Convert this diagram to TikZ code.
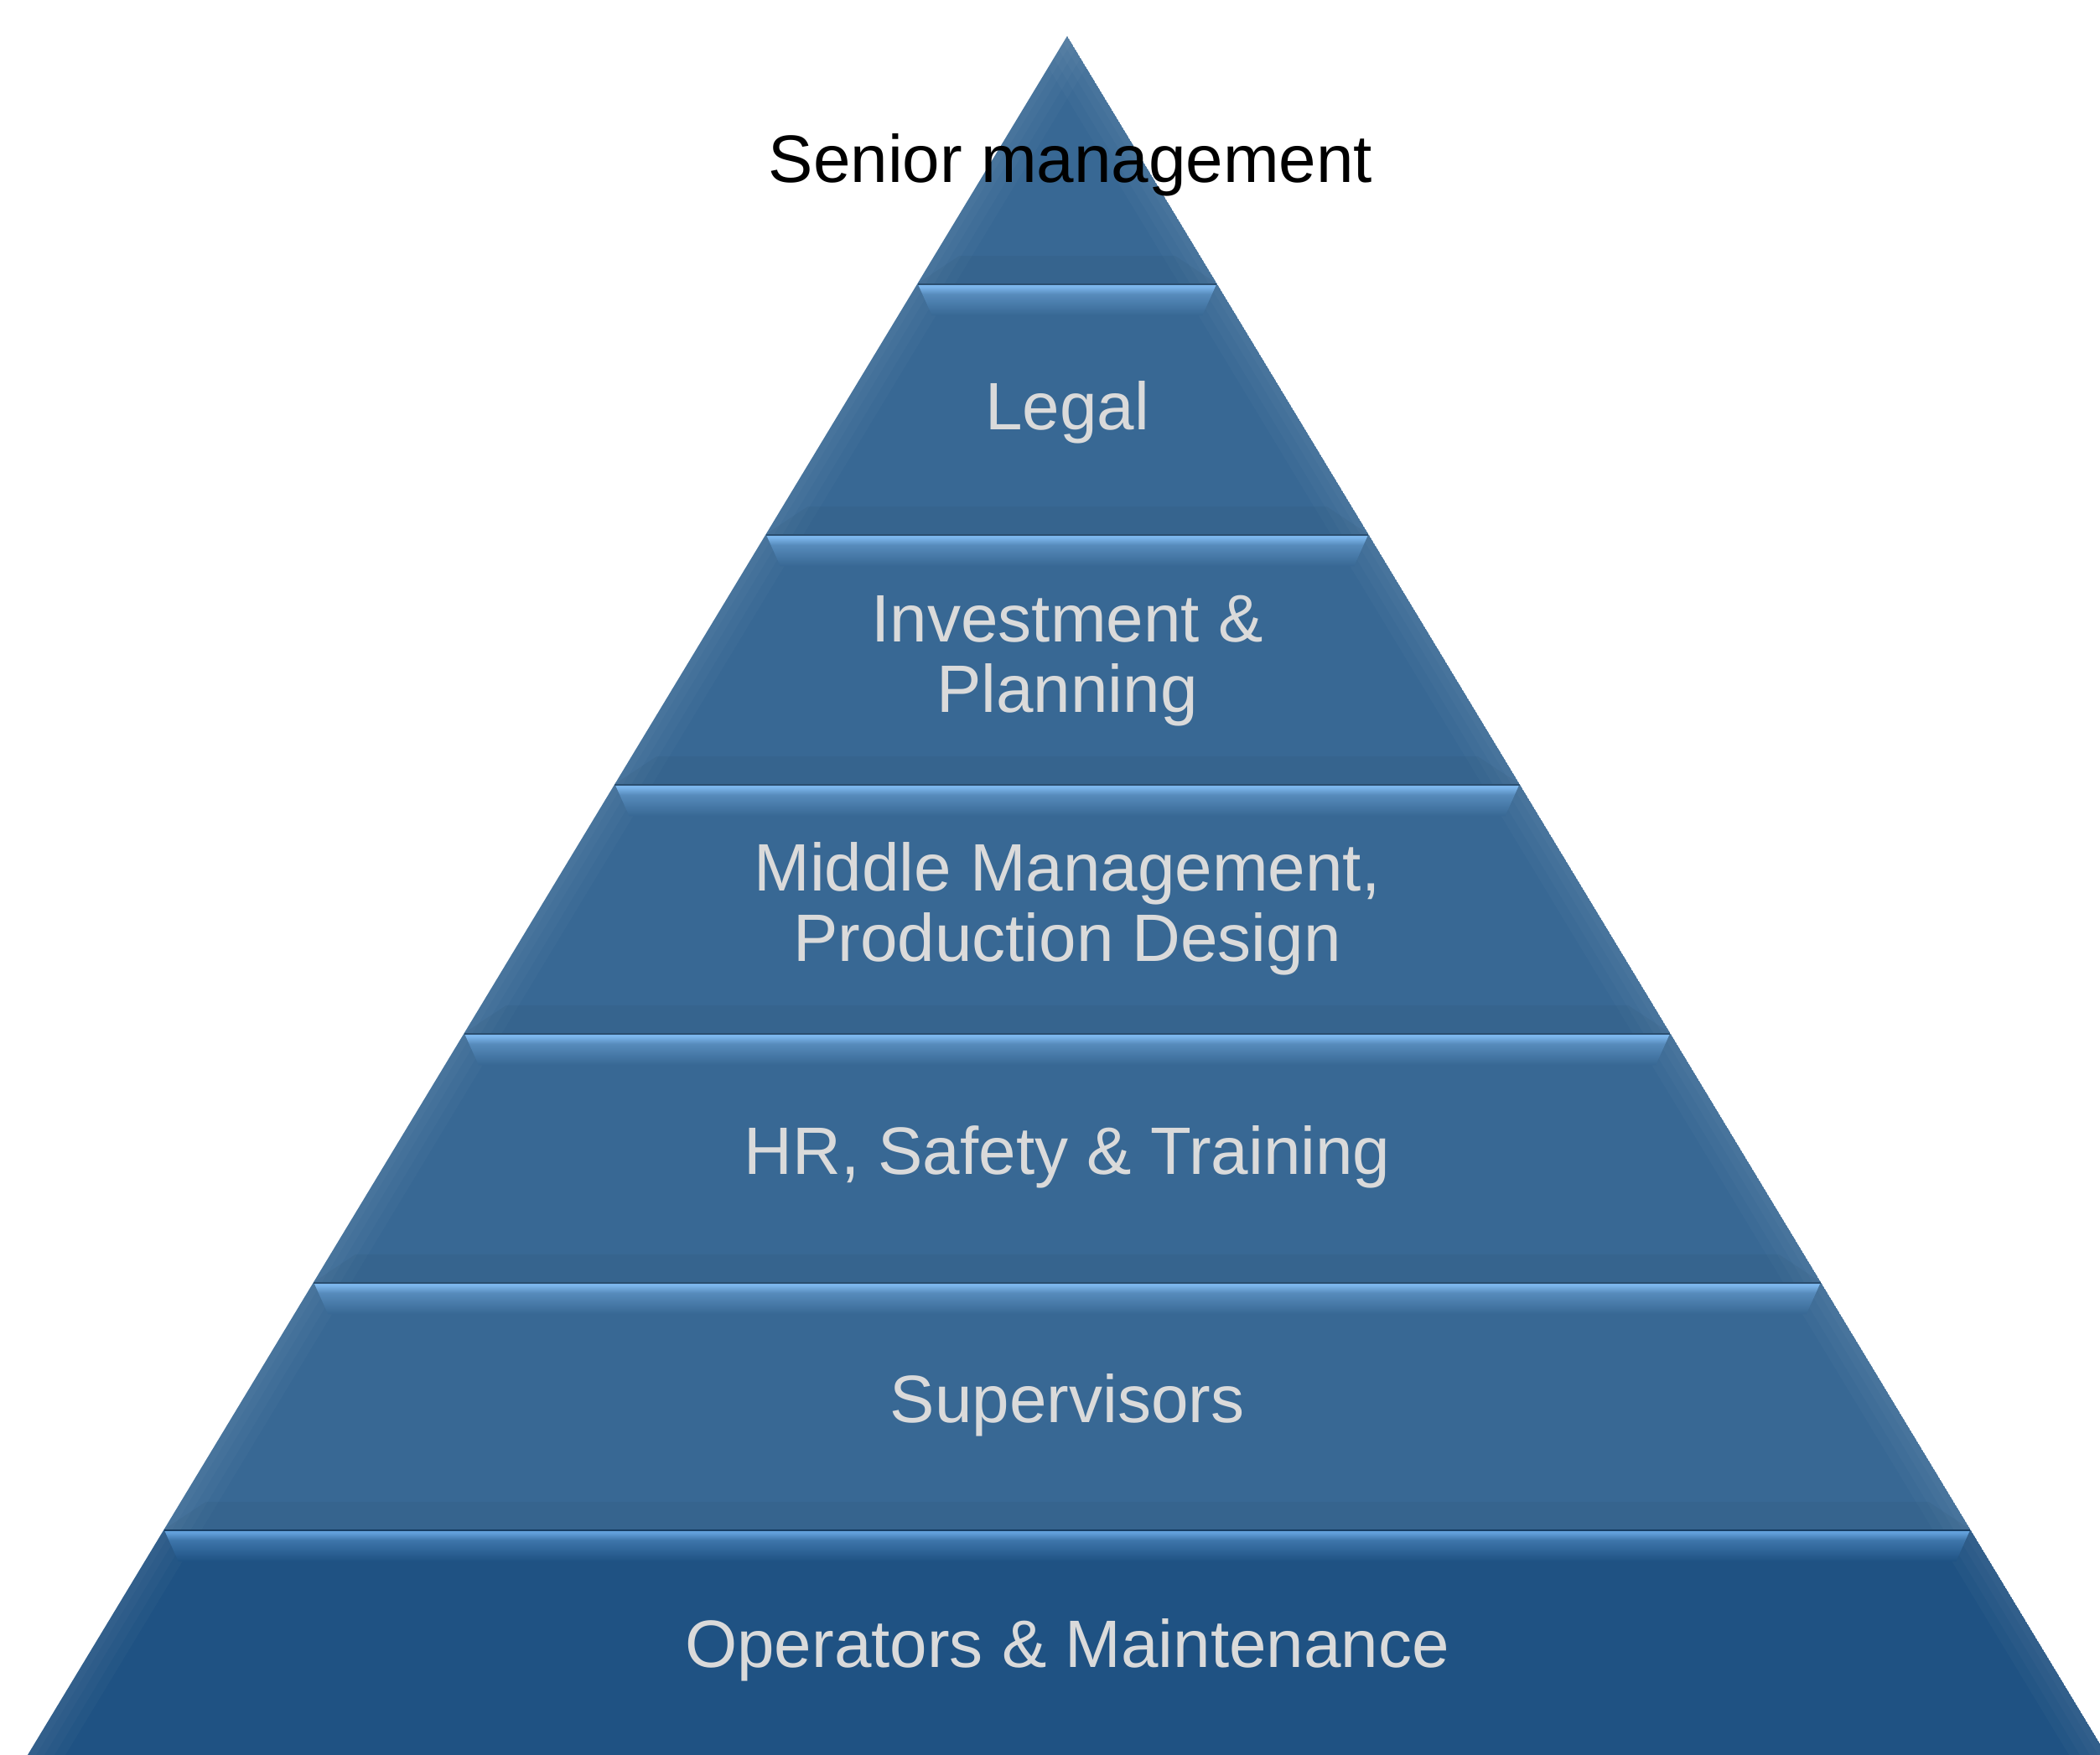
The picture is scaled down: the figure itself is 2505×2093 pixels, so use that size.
\documentclass[tikz,border=0pt]{standalone}
\usepackage{fontspec}
\setmainfont{Liberation Sans}
\definecolor{mainc}{HTML}{386894}
\definecolor{botc}{HTML}{1F5283}
\definecolor{hlc}{HTML}{7CB6EC}
\definecolor{hlb}{HTML}{62A0DA}
\definecolor{txtc}{HTML}{DADADA}
\pgfdeclareverticalshading{hlup}{100bp}{color(0bp)=(mainc); color(25bp)=(mainc); color(58bp)=(mainc!55!hlc); color(70bp)=(hlc); color(100bp)=(hlc)}
\pgfdeclareverticalshading{hldown}{100bp}{color(0bp)=(botc); color(25bp)=(botc); color(58bp)=(botc!55!hlb); color(70bp)=(hlb); color(100bp)=(hlb)}
\tikzset{
  lbl/.style={text=txtc, font=\fontsize{24}{25}\selectfont, align=center, inner sep=0pt, anchor=base},
  toplbl/.style={text=black, font=\fontsize{24}{25}\selectfont, inner sep=0pt, anchor=base},
}
\begin{document}
\begin{tikzpicture}[x=0.3pt,y=-0.3pt]
\useasboundingbox (0,0) rectangle (2505,2093);
\clip (0,0) rectangle (2505,2093);
\foreach \yt/\yb/\c/\sh/\top in {43/338/mainc/hlup/0, 338/637/mainc/hlup/1, 637/935/mainc/hlup/1, 935/1232/mainc/hlup/1, 1232/1529/mainc/hlup/1, 1529/1824/mainc/hlup/1, 1824/2130/botc/hldown/1}{
  \pgfmathsetmacro\xlt{1273-0.6049*(\yt-43)}
  \pgfmathsetmacro\xrt{1273+0.6049*(\yt-43)}
  \pgfmathsetmacro\xlb{1273-0.6049*(\yb-43)}
  \pgfmathsetmacro\xrb{1273+0.6049*(\yb-43)}
  \pgfmathsetmacro\xlu{1273-0.6049*(\yb-33-43)+30}
  \pgfmathsetmacro\xru{1273+0.6049*(\yb-33-43)-30}
  \pgfmathsetmacro\xld{1273-0.6049*(\yt+38-43)+40}
  \pgfmathsetmacro\xrd{1273+0.6049*(\yt+38-43)-40}
  \begin{scope}
    \clip (\xlt,\yt) -- (\xrt,\yt) -- (\xrb,\yb) -- (\xlb,\yb) -- cycle;
    \fill[\c] (\xlt,\yt) -- (\xrt,\yt) -- (\xrb,\yb) -- (\xlb,\yb) -- cycle;
    % side bevels
    \foreach \w in {45,32,20,10}{
      \fill[white,opacity=0.022] (\xlt,\yt) -- (\xlb,\yb) -- ({\xlb+\w},\yb) -- ({\xlt+\w},\yt) -- cycle;
      \fill[white,opacity=0.022] (\xrt,\yt) -- (\xrb,\yb) -- ({\xrb-\w},\yb) -- ({\xrt-\w},\yt) -- cycle;
    }
    % lower bevel
    \fill[black,opacity=0.035] (\xlb,\yb) -- (\xlu,{\yb-33}) -- (\xru,{\yb-33}) -- (\xrb,\yb) -- cycle;
    % upper highlight bevel
    \ifnum\top=1
      \shade[shading=\sh] (\xlt,\yt) -- (\xrt,\yt) -- (\xrd,{\yt+38}) -- (\xld,{\yt+38}) -- cycle;
      \draw[line width=0.6pt, \c!75!black] (\xlt,{\yt+1}) -- (\xrt,{\yt+1});
      \draw[line width=0.6pt, mainc!60!white] (\xlt,{\yt-2}) -- (\xrt,{\yt-2});
    \fi
  \end{scope}
}
\node[toplbl] (sm) at (1277,218) {Senior management};
\node[lbl] (legal) at (1273,512) {Legal};
\node[lbl] (invest) at (1273,849) {Investment \&\\Planning};
\node[lbl] (middle) at (1273,1146) {Middle Management,\\Production Design};
\node[lbl] (hr) at (1273,1400) {HR, Safety \& Training};
\node[lbl] (sup) at (1273,1696) {Supervisors};
\node[lbl] (ops) at (1273,1988) {Operators \& Maintenance};
\end{tikzpicture}
\end{document}
